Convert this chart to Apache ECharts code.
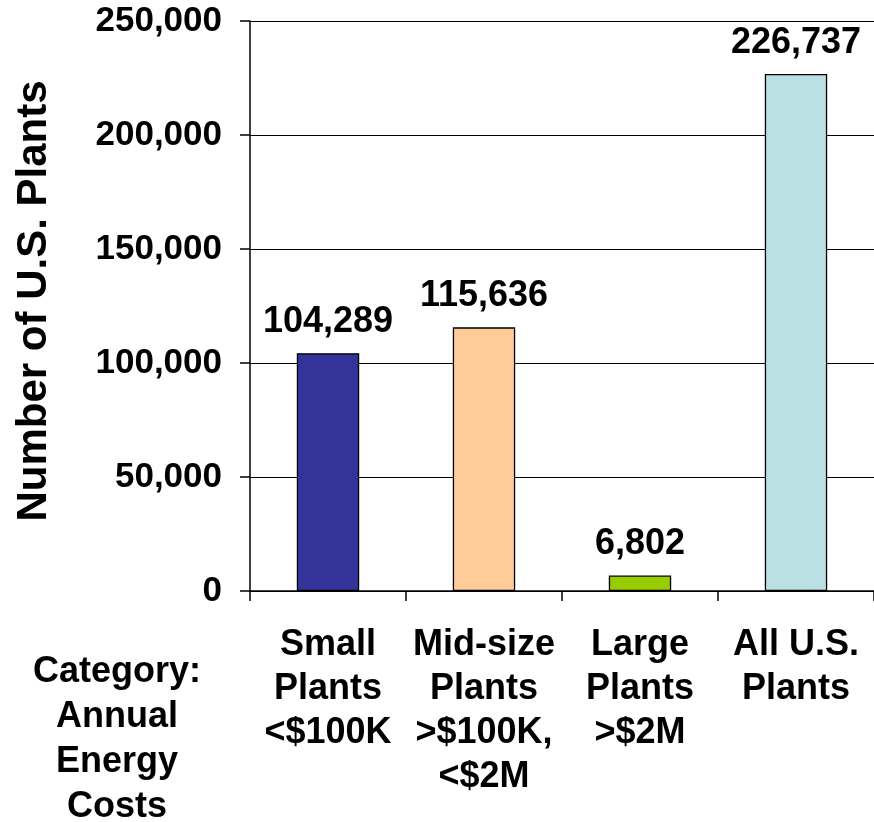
<!DOCTYPE html>
<html>
<head>
<meta charset="utf-8">
<script src="https://cdn.jsdelivr.net/npm/echarts@6/dist/echarts.min.js"></script>
<style>
html,body{margin:0;padding:0;background:#fff;}
#chart{width:874px;height:822px;}
</style>
</head>
<body>
<div id="chart"></div>
<script>
var categories = ['Small\nPlants\n<$100K', 'Mid-size\nPlants\n>$100K,\n<$2M', 'Large\nPlants\n>$2M', 'All U.S.\nPlants'];
var plantCounts = [104289, 115636, 6802, 226737];
var barColors = ['#333399', '#FFCC99', '#99CC00', '#BBE0E3'];
var yTicks = [0, 50000, 100000, 150000, 200000, 250000];
var yTitle = 'Number of U.S. Plants';
var xTitle = 'Category:\nAnnual\nEnergy\nCosts';

var FONT = '"Liberation Sans", Arial, sans-serif';
function fmt(v){ return Number(v).toLocaleString('en-US'); }

var chart = echarts.init(document.getElementById('chart'), null, {renderer:'canvas'});
chart.setOption({
  backgroundColor: '#ffffff',
  animation: false,
  grid: {left: 250, top: 21, right: -7, bottom: 231, containLabel: false},
  xAxis: {
    type: 'category',
    data: categories,
    axisLine: {lineStyle: {color: '#000', width: 1.5}},
    axisTick: {show: true, length: 10, lineStyle: {color: '#000', width: 1.5}},
    axisLabel: {interval: 0, margin: 32, color: '#000', fontFamily: FONT, fontWeight: 'bold', fontSize: 36, lineHeight: 44, align: 'center'},
    splitLine: {show: false}
  },
  yAxis: {
    type: 'value',
    min: yTicks[0],
    max: yTicks[yTicks.length - 1],
    interval: yTicks[1] - yTicks[0],
    name: yTitle,
    nameLocation: 'middle',
    nameGap: 195,
    nameTextStyle: {color: '#000', fontFamily: FONT, fontWeight: 'bold', fontSize: 42, padding: [0, 0, 0, 10]},
    axisLine: {show: true, lineStyle: {color: '#000', width: 1.5}},
    axisTick: {show: true, length: 10, lineStyle: {color: '#000', width: 1.5}},
    axisLabel: {margin: 28, color: '#000', fontFamily: FONT, fontWeight: 'bold', fontSize: 35, formatter: fmt},
    splitLine: {show: true, lineStyle: {color: '#000', width: 1.2}}
  },
  series: [{
    type: 'bar',
    barWidth: '40%',
    data: plantCounts.map(function(v, i){ return {value: v, itemStyle: {color: barColors[i]}}; }),
    itemStyle: {borderColor: '#000', borderWidth: 1.3},
    label: {show: true, position: 'top', distance: 13, color: '#000', fontFamily: FONT, fontWeight: 'bold', fontSize: 36, formatter: function(p){ return fmt(p.value); }}
  }],
  graphic: [{
    type: 'text',
    x: 117,
    y: 650,
    style: {text: xTitle, textAlign: 'center', textVerticalAlign: 'top', fill: '#000', font: 'bold 36px ' + FONT, lineHeight: 45}
  }]
});
</script>
</body>
</html>
